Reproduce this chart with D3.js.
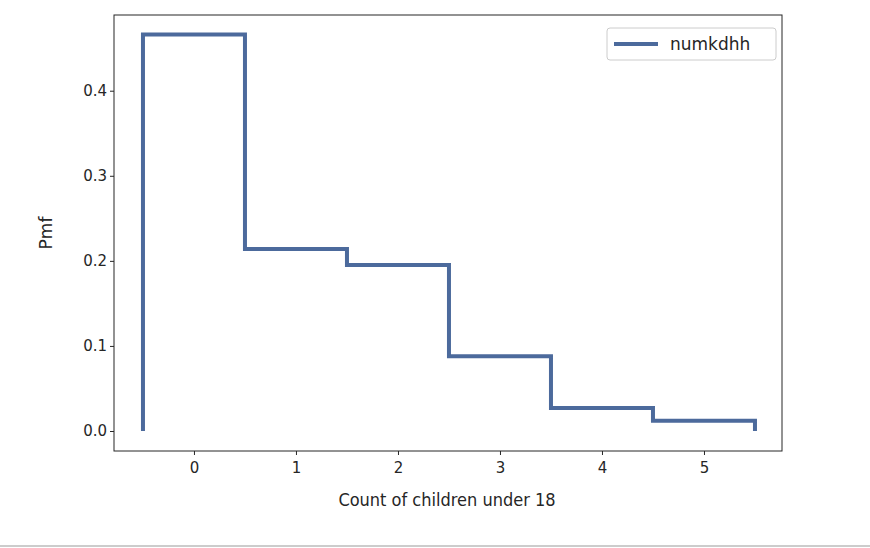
<!DOCTYPE html>
<html><head><meta charset="utf-8">
<script src="https://cdn.jsdelivr.net/npm/d3@7"></script>
<style>body{margin:0;background:#fff}text{font-family:"DejaVu Sans",sans-serif;fill:#262626}</style>
</head><body><svg id="c" width="870" height="548"></svg>
<script>
const categories=[0,1,2,3,4,5];
const pmf=[0.466,0.214,0.195,0.088,0.027,0.012];
const xTicks=[0,1,2,3,4,5];
const yTicks=[0.0,0.1,0.2,0.3,0.4];
const svg=d3.select("#c");
const L=114,R=782,T=15,B=451;
const x=d3.scaleLinear().domain([-0.784,5.765]).range([L,R]);
const y=d3.scaleLinear().domain([-0.0235,0.489]).range([B,T]);
const pts=[[-0.5,0]];
categories.forEach((c,i)=>{pts.push([c-0.5,pmf[i]]);pts.push([c+0.5,pmf[i]]);});
pts.push([5.5,0]);
svg.append("path").attr("d",d3.line().x(d=>x(d[0])).y(d=>y(d[1]))(pts))
 .attr("fill","none").attr("stroke","#4C6A9C").attr("stroke-width",4).attr("stroke-linejoin","miter");
svg.append("rect").attr("x",L).attr("y",T).attr("width",R-L).attr("height",B-T).attr("fill","none").attr("stroke","#262626").attr("stroke-width",1);
const xa=svg.append("g").attr("transform",`translate(0,${B})`).call(d3.axisBottom(x).tickValues(xTicks).tickFormat(d3.format("d")).tickSize(4));
const ya=svg.append("g").attr("transform",`translate(${L},0)`).call(d3.axisLeft(y).tickValues(yTicks).tickFormat(d3.format(".1f")).tickSize(4));
[xa,ya].forEach(a=>{a.select(".domain").remove();a.selectAll("text").style("font-size","15px").style("font-family","DejaVu Sans");a.selectAll("line").attr("stroke","#262626");});
xa.selectAll("text").attr("dy","1em");
svg.append("text").attr("x",447).attr("y",506).attr("text-anchor","middle").style("font-size","18px").style("font-family","DejaVu Sans Condensed, DejaVu Sans").text("Count of children under 18");
svg.append("text").attr("transform",`translate(52,${(T+B)/2}) rotate(-90)`).attr("text-anchor","middle").style("font-size","17px").text("Pmf");
const lg=svg.append("g");
lg.append("rect").attr("x",607).attr("y",28).attr("width",169).attr("height",32).attr("rx",3).attr("fill","#fff").attr("stroke","#ccc");
lg.append("line").attr("x1",614).attr("x2",658).attr("y1",44).attr("y2",44).attr("stroke","#4C6A9C").attr("stroke-width",4);
lg.append("text").attr("x",670).attr("y",50).style("font-size","17px").text("numkdhh");
svg.append("line").attr("x1",0).attr("x2",870).attr("y1",546).attr("y2",546).attr("stroke","#999");
</script></body></html>
